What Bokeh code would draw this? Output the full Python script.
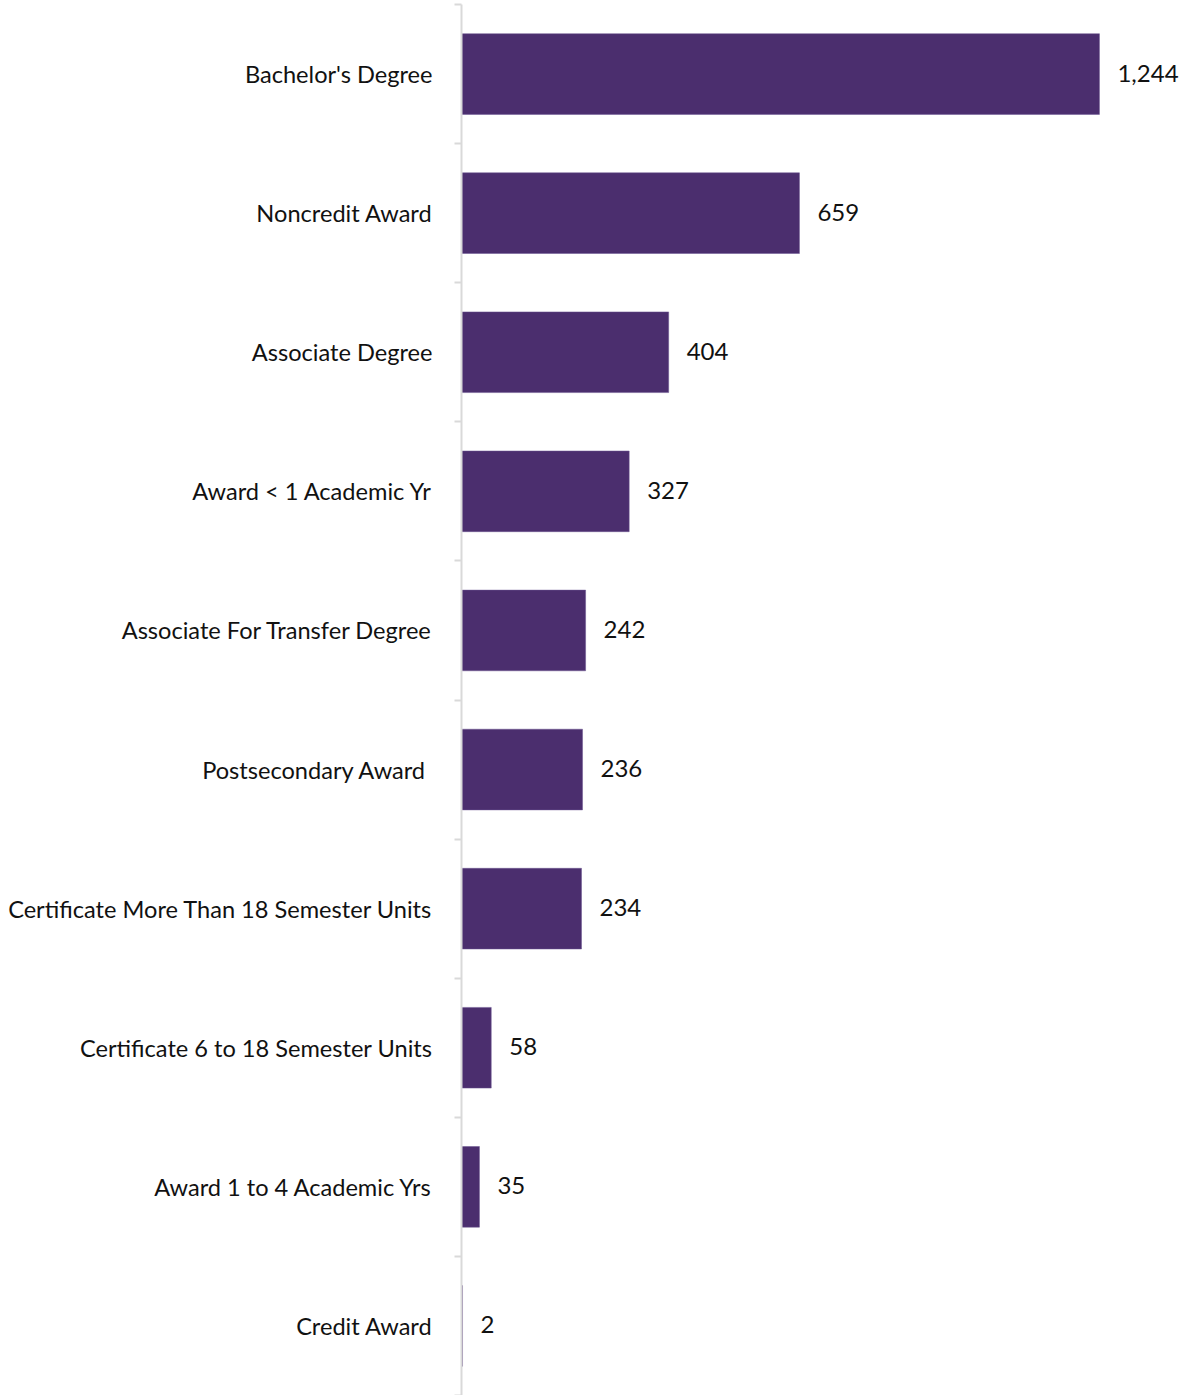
from bokeh.plotting import figure
from bokeh.models import ColumnDataSource, Range1d, FixedTicker, LabelSet
from bokeh.core.properties import value
from bokeh.embed import file_html
from bokeh.resources import INLINE

categories = [
    "Bachelor's Degree",
    "Noncredit Award",
    "Associate Degree",
    "Award < 1 Academic Yr",
    "Associate For Transfer Degree",
    "Postsecondary Award ",
    "Certificate More Than 18 Semester Units",
    "Certificate 6 to 18 Semester Units",
    "Award 1 to 4 Academic Yrs",
    "Credit Award",
]
counts = [1244, 659, 404, 327, 242, 236, 234, 58, 35, 2]

n = len(categories)
ypos = [i + 0.5 for i in range(n)]
labels = [f"{v:,}" for v in counts]

src = ColumnDataSource(dict(y=ypos, v=counts, lab=labels, cat=categories))

FONT = "Lato"

p = figure(width=1181, height=1395, output_backend="svg", toolbar_location=None,
           x_range=Range1d(0, 1404), y_range=Range1d(n, 0),
           min_border_left=461, min_border_right=0, min_border_top=4, min_border_bottom=0)

p.hbar(y="y", right="v", left=0, height=0.58, source=src,
       fill_color="#4B2E6E", line_color="#6A5590", line_width=0.5)

p.add_layout(LabelSet(x="v", y="y", text="lab", source=src, x_offset=18, y_offset=1,
                      text_baseline="middle", text_align="left",
                      text_font=value(FONT), text_font_size="24px", text_color="#111111"))

p.xaxis.visible = False
p.grid.visible = False
p.outline_line_color = None

ya = p.yaxis[0]
ya.ticker = FixedTicker(ticks=ypos, minor_ticks=list(range(n + 1)))
ya.major_label_overrides = {y: c for y, c in zip(ypos, categories)}
ya.axis_line_color = "#D9D9D9"
ya.axis_line_width = 2
ya.major_tick_out = 0
ya.major_tick_in = 0
ya.major_tick_line_color = None
ya.minor_tick_out = 7
ya.minor_tick_in = 0
ya.minor_tick_line_color = "#D9D9D9"
ya.minor_tick_line_width = 2
ya.major_label_standoff = 22
ya.major_label_text_font = FONT
ya.major_label_text_font_size = "23.6px"
ya.major_label_text_color = "#111111"

open("out.html", "w").write(file_html(p, INLINE))
